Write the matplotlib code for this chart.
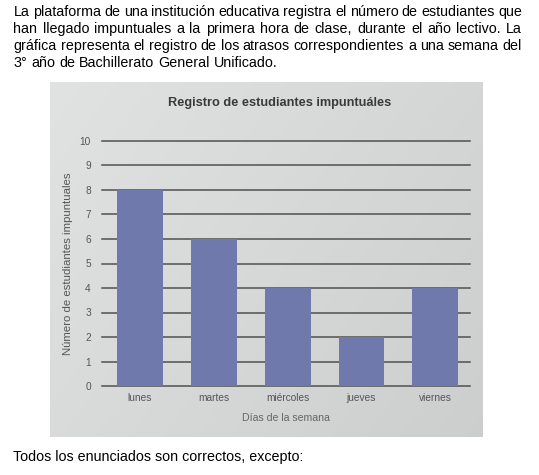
import numpy as np
import matplotlib.pyplot as plt

intro_lines = [
    'La plataforma de una institución educativa registra el número de estudiantes que',
    'han llegado impuntuales a la primera hora de clase, durante el año lectivo. La',
    'gráfica representa el registro de los atrasos correspondientes a una semana del',
    '3° año de Bachillerato General Unificado.',
]
outro = 'Todos los enunciados son correctos, excepto:'

chart_title = 'Registro de estudiantes impuntuáles'
days = ['lunes', 'martes', 'miércoles', 'jueves', 'viernes']
late = [8, 6, 4, 2, 4]
y_ticks = list(range(0, 11))
x_label = 'Días de la semana'
y_label = 'Número de estudiantes impuntuales'

W, H = 539, 475
FONT = 'Liberation Sans'
SIZE = 10.3


def px(x, y):
    return x / W, 1 - y / H


def justified(fig, line, y, x0, x1, size, last=False):
    r = fig.canvas.get_renderer()
    words = line.split(' ')
    objs = [fig.text(0, 0, w, fontsize=size, family=FONT, va='center') for w in words]
    widths = [o.get_window_extent(r).width for o in objs]
    if last:
        sp = fig.text(0, 0, 'a b', fontsize=size, family=FONT)
        a = fig.text(0, 0, 'ab', fontsize=size, family=FONT)
        gap = sp.get_window_extent(r).width - a.get_window_extent(r).width
        sp.remove()
        a.remove()
    else:
        gap = (x1 - x0 - sum(widths)) / (len(words) - 1)
    x = x0
    for o, w in zip(objs, widths):
        o.set_position(px(x, y))
        x += w + gap


fig = plt.figure(figsize=(W / 100, H / 100), dpi=100)
fig.patch.set_facecolor('white')

for i, line in enumerate(intro_lines):
    justified(fig, line, 12 + i * 17.1, 13.5, 522, SIZE, last=(i == len(intro_lines) - 1))
fig.text(*px(13, 457), outro, fontsize=SIZE, family=FONT, va='center')

# photo background
bg = fig.add_axes([50 / W, 1 - 437 / H, 433 / W, 355 / H])
gx, gy = np.meshgrid(np.linspace(0, 1, 200), np.linspace(0, 1, 200))
shade = 0.89 - 0.05 * gx - 0.03 * gy
bg.imshow(np.dstack([shade - 0.01, shade, shade - 0.005]), extent=[0, 1, 0, 1], aspect='auto')
bg.set_axis_off()

ax = fig.add_axes([102 / W, 1 - 386 / H, 368 / W, 245 / H])
ax.patch.set_alpha(0)
x = np.arange(len(days))
ax.bar(x, late, width=0.62, color='#6f79ab', zorder=3)
ax.set_xlim(-0.515, 4.47)
ax.set_ylim(0, 10)
ax.set_yticks(y_ticks)
ax.set_xticks(x, days)
for yv in y_ticks:
    ax.axhline(yv, color='#505050', lw=1.1, zorder=1, clip_on=False)
for s in ax.spines.values():
    s.set_visible(False)
ax.tick_params(axis='both', length=0, labelsize=7.3, labelcolor='#555555')
ax.tick_params(axis='y', pad=8)
ax.tick_params(axis='x', pad=5)
for t in ax.get_xticklabels() + ax.get_yticklabels():
    t.set_family(FONT)
ax.set_xlabel(x_label, fontsize=7.6, color='#666666', family=FONT, labelpad=7)
ax.set_ylabel(y_label, fontsize=8.2, color='#555555', family=FONT, labelpad=5)
fig.text(*px(280, 103), chart_title, fontsize=9.2, weight='bold', color='#3a3a3a',
         family=FONT, ha='center', va='center')

fig.savefig('out.png', dpi=100)
